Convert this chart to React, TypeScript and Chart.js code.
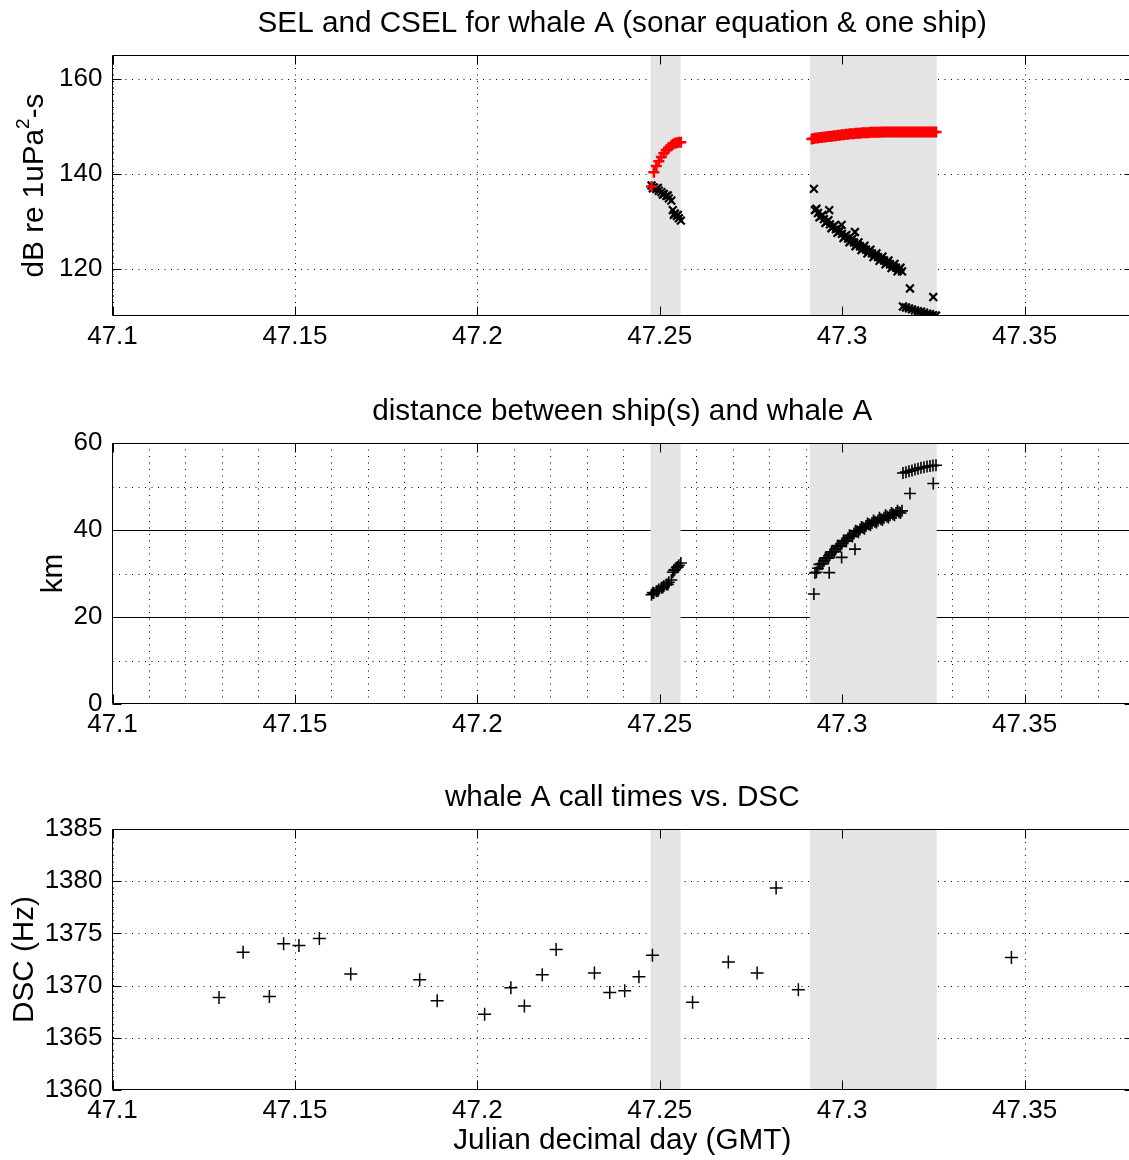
import React, { useEffect, useRef } from "react";
import { Chart, registerables } from "chart.js";

Chart.register(...registerables);

const FONT = '"Liberation Sans", Arial, Helvetica, sans-serif';

// ---------- axes ----------
const X_MIN = 47.1;
const X_MAX = 47.38;
const X_TICKS = [47.1, 47.15, 47.2, 47.25, 47.3, 47.35];
const X_MINOR_GRID = [
  47.11, 47.12, 47.13, 47.14, 47.15, 47.16, 47.17, 47.18, 47.19, 47.2,
  47.21, 47.22, 47.23, 47.24, 47.25, 47.26, 47.27, 47.28, 47.29, 47.3,
  47.31, 47.32, 47.33, 47.34, 47.35, 47.36, 47.37,
];
const SHADED_SPANS: [number, number][] = [
  [47.24748, 47.2557],
  [47.29117, 47.32592],
];

const SEL_Y_TICKS = [120, 140, 160];
const DIST_Y_TICKS = [0, 20, 40, 60];
const DIST_Y_MINOR = [10, 20, 30, 40, 50];
const DIST_Y_SOLID = [20, 40];
const DSC_Y_TICKS = [1360, 1365, 1370, 1375, 1380, 1385];

// ---------- data ----------
const SEL_TIME = [
  47.24775, 47.24838, 47.24907, 47.24975, 47.25044, 47.25112, 47.25181,
  47.25249, 47.25318, 47.25359, 47.25414, 47.25469, 47.25524, 47.25579,
  47.29226, 47.29254, 47.29336, 47.29419, 47.29501, 47.29583, 47.29646,
  47.29665, 47.29748, 47.2983, 47.29912, 47.29986, 47.29995, 47.30077,
  47.30159, 47.30242, 47.30324, 47.30351, 47.30406, 47.30489, 47.30571,
  47.30653, 47.30735, 47.30818, 47.309, 47.30982, 47.31065, 47.31147,
  47.31229, 47.31312, 47.31394, 47.31476, 47.31559, 47.31641, 47.31667,
  47.31749, 47.31832, 47.31859, 47.31914, 47.31996, 47.32079, 47.32161,
  47.32243, 47.32326, 47.32408, 47.3249, 47.32498, 47.32572,
  47.29295, 47.29377, 47.29459, 47.29542, 47.29624, 47.29706, 47.29789,
  47.29871, 47.29953, 47.30036, 47.30118, 47.302, 47.30283, 47.30365,
  47.30447, 47.3053, 47.30612, 47.30694, 47.30776, 47.30859, 47.30941,
  47.31023, 47.31106, 47.31188, 47.3127, 47.31353, 47.31435, 47.31517,
  47.316,
  47.24811, 47.24948, 47.25085, 47.25222, 47.25387, 47.25496,
];
const SEL_VALUES = [
  137.5, 137.1, 136.8, 136.4, 136.1, 135.7, 135.3, 134.8, 134.3, 132.3,
  131.6, 131.1, 130.6, 130.1,
  136.8, 132.3, 131.7, 131.0, 130.4, 129.9, 132.3, 129.3, 128.8, 128.3,
  127.8, 129.2, 127.3, 126.8, 126.3, 125.9, 125.5, 127.7, 125.1, 124.7,
  124.3, 124.0, 123.6, 123.2, 122.8, 122.4, 122.0, 121.7, 121.3, 120.9,
  120.5, 120.2, 119.8, 119.4, 112.0, 111.8, 111.6, 115.8, 111.4, 111.2,
  111.0, 110.9, 110.7, 110.5, 110.4, 110.2, 114.0, 110.1,
  132.6, 130.8, 131.3, 129.6, 130.2, 128.5, 129.1, 127.5, 128.1, 126.4,
  127.1, 125.5, 126.3, 124.7, 125.5, 123.9, 124.8, 123.2, 124.0, 122.4,
  123.2, 121.6, 122.5, 120.9, 121.7, 120.1, 121.0, 119.4, 120.2,
  136.9, 137.0, 135.6, 135.4, 131.3, 131.3,
];
const DIST_VALUES = [
  25.1, 25.5, 25.9, 26.3, 26.7, 27.1, 27.5, 28.0, 28.5, 30.3, 30.9, 31.4,
  31.9, 32.4,
  25.3, 30.1, 31.2, 32.2, 32.9, 33.6, 30.2, 34.3, 35.0, 35.7, 36.3, 33.7,
  36.9, 37.5, 38.1, 38.7, 39.2, 35.6, 39.7, 40.1, 40.5, 40.9, 41.3, 41.6,
  41.9, 42.2, 42.5, 42.8, 43.1, 43.4, 43.6, 43.9, 44.1, 44.4, 53.1, 53.3,
  53.5, 48.4, 53.7, 53.9, 54.1, 54.3, 54.4, 54.6, 54.7, 54.8, 50.7, 54.9,
  30.3, 32.1, 32.2, 33.6, 33.5, 35.0, 35.0, 36.4, 36.2, 37.6, 37.4, 38.8,
  38.5, 39.8, 39.5, 40.7, 40.3, 41.5, 41.1, 42.2, 41.7, 42.8, 42.3, 43.4,
  42.9, 43.9, 43.4, 44.4, 43.9,
  25.6, 26.0, 26.8, 27.5, 30.7, 31.5,
];
const CSEL_TIME = [
  47.24775, 47.24838, 47.24907, 47.24975, 47.25044, 47.25112, 47.25181,
  47.25249, 47.25318, 47.25359, 47.25414, 47.25469, 47.25524, 47.25579,
  47.29171, 47.29226, 47.29281, 47.29336, 47.29391, 47.29445, 47.295,
  47.29555, 47.2961, 47.29665, 47.2972, 47.29775, 47.2983, 47.29884,
  47.29939, 47.29994, 47.30049, 47.30104, 47.30159, 47.30214, 47.30268,
  47.30323, 47.30378, 47.30433, 47.30488, 47.30543, 47.30598, 47.30652,
  47.30707, 47.30762, 47.30817, 47.30872, 47.30927, 47.30982, 47.31037,
  47.31091, 47.31146, 47.31201, 47.31256, 47.31311, 47.31366, 47.31421,
  47.31475, 47.3153, 47.31585, 47.3164, 47.31695, 47.3175, 47.31805,
  47.31859, 47.31914, 47.31969, 47.32024, 47.32079, 47.32134, 47.32189,
  47.32244, 47.32298, 47.32353, 47.32408, 47.32463, 47.32518, 47.32573,
];
const CSEL_VALUES = [
  137.3, 140.3, 141.6, 142.6, 143.5, 144.3, 145.0, 145.5, 145.9, 146.2,
  146.4, 146.5, 146.6, 146.6,
  147.3, 147.4, 147.5, 147.5, 147.6, 147.6, 147.7, 147.7, 147.8, 147.8,
  147.9, 148.0, 148.0, 148.1, 148.1, 148.2, 148.2, 148.3, 148.3, 148.4,
  148.4, 148.4, 148.5, 148.5, 148.5, 148.6, 148.6, 148.6, 148.6, 148.7,
  148.7, 148.7, 148.7, 148.7, 148.7, 148.8, 148.8, 148.8, 148.8, 148.8,
  148.8, 148.8, 148.8, 148.8, 148.8, 148.8, 148.8, 148.8, 148.8, 148.8,
  148.8, 148.8, 148.8, 148.8, 148.8, 148.8, 148.8, 148.8, 148.8, 148.8,
  148.8, 148.8, 148.8,
];
const CALL_TIME = [
  47.1292, 47.1358, 47.143, 47.1469, 47.1511, 47.1567, 47.1653, 47.1842,
  47.189, 47.202, 47.2092, 47.2129, 47.2178, 47.2216, 47.2321, 47.2363,
  47.2404, 47.2443, 47.248, 47.259, 47.2688, 47.2767, 47.2819, 47.288,
  47.3464,
];
const CALL_DSC = [
  1368.85, 1373.2, 1368.95, 1374.0, 1373.85, 1374.5, 1371.1, 1370.55,
  1368.55, 1367.25, 1369.8, 1368.05, 1371.05, 1373.45, 1371.2, 1369.35,
  1369.5, 1370.85, 1372.9, 1368.4, 1372.25, 1371.2, 1379.35, 1369.6, 1372.7,
];

// ---------- layout ----------
const CANVAS_W = 1134;
const PLOT_LEFT = 112.5;
const PLOT_TOP = 55;
const PLOT_BOTTOM = 316;
const SHADE = "#e4e4e4";
const TICK_LEN = 9;
const TITLE_SIZE = 29.7;

type TitlePart = { text: string; sup?: boolean };

type SeriesCfg = {
  label: string;
  x: number[];
  y: number[];
  color: string;
  style: "cross" | "crossRot";
  radius: number;
  width: number;
};

type PanelCfg = {
  top: number;
  height: number;
  title: string;
  yMin: number;
  yMax: number;
  yTicks: number[];
  yDotted: number[];
  ySolid: number[];
  xDotted: number[];
  yTitle: TitlePart[];
  yTitleX: number;
  xTitle?: string;
  xTitleY?: number;
  series: SeriesCfg[];
};

const fmtX = (v: number) => String(Math.round(v * 100) / 100);

function makePlugin(cfg: PanelCfg) {
  return {
    id: "matlabDecor",
    beforeDatasetsDraw(chart: any) {
      const { ctx, chartArea: a, scales } = chart;
      const xs = scales.x;
      const ys = scales.y;
      ctx.save();
      ctx.beginPath();
      ctx.rect(a.left, a.top, a.right - a.left, a.bottom - a.top);
      ctx.clip();
      ctx.lineWidth = 1;
      ctx.strokeStyle = "#000";
      ctx.setLineDash([1, 5.5]);
      for (const v of cfg.xDotted) {
        const px = Math.round(xs.getPixelForValue(v)) + 0.5;
        ctx.beginPath();
        ctx.moveTo(px, a.top);
        ctx.lineTo(px, a.bottom);
        ctx.stroke();
      }
      for (const v of cfg.yDotted) {
        const py = Math.round(ys.getPixelForValue(v)) + 0.5;
        ctx.beginPath();
        ctx.moveTo(a.left, py);
        ctx.lineTo(a.right, py);
        ctx.stroke();
      }
      ctx.setLineDash([]);
      for (const v of cfg.ySolid) {
        const py = Math.round(ys.getPixelForValue(v)) + 0.5;
        ctx.beginPath();
        ctx.moveTo(a.left, py);
        ctx.lineTo(a.right, py);
        ctx.stroke();
      }
      ctx.fillStyle = SHADE;
      for (const [s, e] of SHADED_SPANS) {
        const x0 = xs.getPixelForValue(s);
        const x1 = xs.getPixelForValue(e);
        ctx.fillRect(x0, a.top, x1 - x0, a.bottom - a.top);
      }
      ctx.restore();
    },
    afterDatasetsDraw(chart: any) {
      const { ctx, chartArea: a, scales } = chart;
      const xs = scales.x;
      const ys = scales.y;
      ctx.save();
      ctx.strokeStyle = "#000";
      ctx.lineWidth = 1;
      const L = Math.round(a.left) - 0.5;
      const T = Math.round(a.top) + 0.5;
      const B = Math.round(a.bottom) - 0.5;
      const R = Math.round(a.right) - 0.5;
      ctx.beginPath();
      ctx.moveTo(R, T);
      ctx.lineTo(L, T);
      ctx.lineTo(L, B);
      ctx.lineTo(R, B);
      ctx.lineTo(R, T);
      ctx.stroke();
      ctx.beginPath();
      for (const v of X_TICKS) {
        const px = Math.round(xs.getPixelForValue(v)) + 0.5;
        ctx.moveTo(px, B);
        ctx.lineTo(px, B - TICK_LEN);
        ctx.moveTo(px, T);
        ctx.lineTo(px, T + TICK_LEN);
      }
      for (const v of cfg.yTicks) {
        const py = Math.round(ys.getPixelForValue(v)) + 0.5;
        ctx.moveTo(L, py);
        ctx.lineTo(L + TICK_LEN, py);
        ctx.moveTo(R, py);
        ctx.lineTo(R - TICK_LEN, py);
      }
      ctx.stroke();

      ctx.fillStyle = "#000";
      ctx.textAlign = "center";
      ctx.textBaseline = "alphabetic";
      ctx.font = `${TITLE_SIZE}px ${FONT}`;
      const cx = (a.left + a.right) / 2 - 1;
      ctx.fillText(cfg.title, cx, 32);

      if (cfg.xTitle) {
        ctx.fillText(cfg.xTitle, cx, cfg.xTitleY || 0);
      }

      const cy = (a.top + a.bottom) / 2;
      ctx.translate(cfg.yTitleX, cy);
      ctx.rotate(-Math.PI / 2);
      ctx.textAlign = "left";
      let total = 0;
      const widths = cfg.yTitle.map((p) => {
        ctx.font = p.sup ? `19px ${FONT}` : `${TITLE_SIZE}px ${FONT}`;
        const w = ctx.measureText(p.text).width;
        total += w;
        return w;
      });
      let tx = -total / 2;
      cfg.yTitle.forEach((p, i) => {
        ctx.font = p.sup ? `19px ${FONT}` : `${TITLE_SIZE}px ${FONT}`;
        ctx.fillText(p.text, tx, p.sup ? -14 : 0);
        tx += widths[i];
      });
      ctx.restore();
    },
  };
}

function Panel({ cfg }: { cfg: PanelCfg }) {
  const ref = useRef<HTMLCanvasElement>(null);
  useEffect(() => {
    const canvas = ref.current;
    if (!canvas) return;
    const chart = new Chart(canvas, {
      type: "scatter",
      data: {
        datasets: cfg.series.map((s) => ({
          label: s.label,
          data: s.x.map((t, i) => ({ x: t, y: s.y[i] })),
          pointStyle: s.style,
          pointRadius: s.radius,
          pointHoverRadius: s.radius,
          pointBorderColor: s.color,
          pointBackgroundColor: s.color,
          pointBorderWidth: s.width,
          showLine: false,
          clip: 0,
        })),
      },
      options: {
        responsive: false,
        maintainAspectRatio: false,
        animation: false,
        devicePixelRatio: 1,
        events: [],
        layout: {
          autoPadding: false,
          padding: { top: PLOT_TOP, left: 0, right: 0, bottom: 0 },
        },
        plugins: {
          legend: { display: false },
          tooltip: { enabled: false },
          title: { display: false },
        },
        scales: {
          x: {
            type: "linear",
            position: "bottom",
            min: X_MIN,
            max: X_MAX,
            grid: { display: false, drawTicks: false },
            border: { display: false },
            ticks: {
              padding: 5,
              color: "#000",
              font: { family: FONT, size: 26 },
              maxRotation: 0,
              autoSkip: false,
              callback: (v: any) => fmtX(Number(v)),
            },
            afterBuildTicks: (s: any) => {
              s.ticks = X_TICKS.map((v) => ({ value: v }));
            },
            afterFit: (s: any) => {
              s.height = cfg.height - PLOT_BOTTOM;
              s.paddingLeft = 0;
              s.paddingRight = 0;
            },
          },
          y: {
            type: "linear",
            position: "left",
            min: cfg.yMin,
            max: cfg.yMax,
            grid: { display: false, drawTicks: false },
            border: { display: false },
            ticks: {
              padding: 10,
              color: "#000",
              font: { family: FONT, size: 26 },
              autoSkip: false,
              callback: (v: any) => String(v),
            },
            afterBuildTicks: (s: any) => {
              s.ticks = cfg.yTicks.map((v) => ({ value: v }));
            },
            afterFit: (s: any) => {
              s.width = PLOT_LEFT;
              s.paddingTop = 0;
              s.paddingBottom = 0;
              s.paddingLeft = 0;
              s.paddingRight = 0;
            },
          },
        },
      },
      plugins: [makePlugin(cfg)],
    } as any);
    return () => chart.destroy();
  }, [cfg]);
  return (
    <div
      style={{
        position: "absolute",
        left: 0,
        top: cfg.top,
        width: CANVAS_W,
        height: cfg.height,
      }}
    >
      <canvas
        ref={ref}
        width={CANVAS_W}
        height={cfg.height}
        style={{ display: "block", width: CANVAS_W, height: cfg.height }}
      />
    </div>
  );
}

const PANELS: PanelCfg[] = [
  {
    top: 0,
    height: 388,
    title: "SEL and CSEL for whale A (sonar equation & one ship)",
    yMin: 110,
    yMax: 165,
    yTicks: SEL_Y_TICKS,
    yDotted: SEL_Y_TICKS,
    ySolid: [],
    xDotted: X_TICKS,
    yTitle: [
      { text: "dB re 1uPa" },
      { text: "2", sup: true },
      { text: "-s" },
    ],
    yTitleX: 43,
    series: [
      {
        label: "CSEL",
        x: CSEL_TIME,
        y: CSEL_VALUES,
        color: "#ff0000",
        style: "cross",
        radius: 5.5,
        width: 2.5,
      },
      {
        label: "SEL",
        x: SEL_TIME,
        y: SEL_VALUES,
        color: "#000000",
        style: "crossRot",
        radius: 5.5,
        width: 2.2,
      },
    ],
  },
  {
    top: 388,
    height: 387,
    title: "distance between ship(s) and whale A",
    yMin: 0,
    yMax: 60,
    yTicks: DIST_Y_TICKS,
    yDotted: DIST_Y_MINOR,
    ySolid: DIST_Y_SOLID,
    xDotted: X_MINOR_GRID,
    yTitle: [{ text: "km" }],
    yTitleX: 62,
    series: [
      {
        label: "distance",
        x: SEL_TIME,
        y: DIST_VALUES,
        color: "#000000",
        style: "cross",
        radius: 6,
        width: 1.6,
      },
    ],
  },
  {
    top: 774,
    height: 386,
    title: "whale A call times vs. DSC",
    yMin: 1360,
    yMax: 1385,
    yTicks: DSC_Y_TICKS,
    yDotted: [1365, 1370, 1375, 1380],
    ySolid: [],
    xDotted: X_TICKS,
    yTitle: [{ text: "DSC (Hz)" }],
    yTitleX: 33,
    xTitle: "Julian decimal day (GMT)",
    xTitleY: 375,
    series: [
      {
        label: "DSC",
        x: CALL_TIME,
        y: CALL_DSC,
        color: "#000000",
        style: "cross",
        radius: 6.5,
        width: 1.5,
      },
    ],
  },
];

export default function App() {
  return (
    <div
      style={{
        position: "fixed",
        left: 0,
        top: 0,
        width: 1129,
        height: 1160,
        overflow: "hidden",
        background: "#ffffff",
      }}
    >
      {PANELS.map((p, i) => (
        <Panel key={i} cfg={p} />
      ))}
    </div>
  );
}
